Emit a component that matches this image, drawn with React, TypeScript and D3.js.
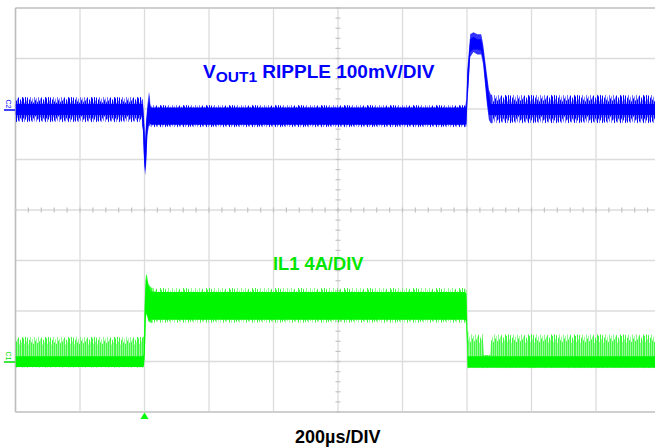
import React from "react";
import * as d3 from "d3";

// ---------- DATA ----------
// Time axis: 200 µs / division, 10 divisions
const timeTicks = [0, 200, 400, 600, 800, 1000, 1200, 1400, 1600, 1800, 2000];
const divTicks = [-4, -3, -2, -1, 0, 1, 2, 3, 4];

// VOUT1 ripple (mV, relative to channel marker), 100 mV/DIV
const blueT = [0, 390, 395, 399, 402, 405, 409, 414, 420, 1394, 1398, 1401, 1405, 1410, 1420, 1432, 1444, 1450, 1456, 1462, 1468, 1474, 1480, 2000];
const blueHi = [26, 26, 20, -20, -60, -20, 10, 36, 10, 10, 20, 80, 110, 150, 154, 150, 150, 130, 100, 70, 40, 30, 30, 30];
const blueLo = [-24, -24, -40, -110, -129, -110, -50, -30, -34, -34, -32, 10, 50, 105, 115, 110, 110, 90, 50, 10, -20, -26, -26, -26];
const blueCoreHi = [12, 12, 12, -30, -70, -30, 0, 20, 5, 5, 10, 70, 100, 140, 145, 140, 140, 120, 90, 60, 30, 12, 12, 12];
const blueCoreLo = [-10, -10, -30, -100, -120, -100, -40, -25, -29, -29, -28, 20, 60, 115, 120, 120, 118, 100, 60, 20, -10, -10, -10, -10];
// steady-state (ripple) intervals, µs
const blueSteady = [[0, 392], [418, 1395], [1478, 2000]];

// IL1 inductor current (A, relative to channel marker), 4 A/DIV
const greenT = [0, 394, 398, 401, 404, 407, 412, 420, 440, 1394, 1398, 1402, 1448, 1452, 1472, 1476, 2000];
const greenHi = [2.0, 2.0, 2.0, 5.0, 6.8, 7.0, 6.2, 5.9, 5.86, 5.86, 5.7, 2.4, 2.4, 0.55, 0.55, 2.2, 2.2];
const greenLo = [-0.45, -0.45, -0.4, 0.5, 3.5, 3.8, 3.2, 3.1, 3.1, 3.1, 3.0, -0.5, -0.5, -0.5, -0.5, -0.5, -0.5];
const greenCoreHi = [0.45, 0.45, 0.6, 4.5, 6.5, 6.6, 6.0, 5.6, 5.55, 5.55, 5.4, 0.45, 0.45, 0.45, 0.45, 0.45, 0.45];
const greenCoreLo = [-0.4, -0.4, -0.3, 0.8, 3.7, 3.9, 3.3, 3.35, 3.35, 3.35, 3.2, -0.45, -0.45, -0.45, -0.45, -0.45, -0.45];
const greenSteady = [[0, 396], [425, 1396], [1404, 2000]];

const triggerTime = 400;

// ---------- STYLE ----------
// texture of the scope's ripple columns: [up, down, opacity] (fractions of half-band)
const TEXTURE: number[][] = [
  [0.9, 0.7, 1], [0.55, 1.0, 0.55], [1.0, 0.8, 1], [0.7, 0.6, 0.6], [0.95, 1.0, 1],
  [0.5, 0.85, 0.5], [0.8, 0.95, 1], [1.0, 0.6, 0.6], [0.65, 0.9, 1], [0.85, 1.0, 0.55],
  [0.55, 0.7, 1], [1.0, 0.9, 0.6], [0.75, 0.55, 1], [0.9, 1.0, 0.5], [0.6, 0.8, 1],
  [1.0, 0.75, 0.6], [0.7, 1.0, 1], [0.85, 0.65, 0.55], [0.95, 0.9, 1], [0.5, 0.95, 0.6],
  [0.8, 0.7, 1], [0.65, 0.85, 0.5], [1.0, 1.0, 1],
];
const BLUE = "#0000ff";
const GREEN = "#00f500";

const W = 655;
const H = 447;
const x = d3.scaleLinear().domain([0, 2000]).range([15.5, 660.5]);
const yDiv = d3.scaleLinear().domain([-4, 4]).range([412, 8]);
const BLUE_OFFSET = 1.98; // divisions
const GREEN_OFFSET = -3.01; // divisions
const yBlue = (mv: number) => yDiv(BLUE_OFFSET + mv / 100);
const yGreen = (a: number) => yDiv(GREEN_OFFSET + a / 4);

type Pt = { t: number; hi: number; lo: number };
const zip = (t: number[], hi: number[], lo: number[]): Pt[] =>
  t.map((v, i) => ({ t: v, hi: hi[i], lo: lo[i] }));

const mkArea = (yf: (v: number) => number) =>
  d3
    .area<Pt>()
    .x((d) => x(d.t))
    .y0((d) => yf(d.lo))
    .y1((d) => yf(d.hi))
    .curve(d3.curveLinear);

const valueAt = (ts: number[], vs: number[], t: number) => {
  const i = Math.max(0, d3.bisectRight(ts, t) - 1);
  return vs[i];
};

const gaps = (steady: number[][]) => {
  const out: number[][] = [];
  for (let i = 0; i < steady.length - 1; i++) out.push([steady[i][1], steady[i + 1][0]]);
  return out;
};

function Trace(props: {
  id: string;
  color: string;
  light: string;
  opacityScale: number;
  ts: number[];
  hi: number[];
  lo: number[];
  coreHi: number[];
  coreLo: number[];
  steady: number[][];
  yf: (v: number) => number;
}) {
  const { id, color, light, opacityScale, ts, hi, lo, coreHi, coreLo, steady, yf } = props;
  const area = mkArea(yf);
  const outer = area(zip(ts, hi, lo)) || "";
  const core = area(zip(ts, coreHi, coreLo)) || "";
  const trans = gaps(steady);
  return (
    <g>
      <defs>
        {steady.map((s, i) => {
          const tm = (s[0] + s[1]) / 2;
          const yh = yf(valueAt(ts, hi, tm));
          const yl = yf(valueAt(ts, lo, tm));
          const c = (yh + yl) / 2;
          const half = Math.abs(yl - yh) / 2;
          return (
            <pattern
              key={i}
              id={`${id}-tex-${i}`}
              x={0}
              y={c - 3 * half}
              width={TEXTURE.length}
              height={6 * half}
              patternUnits="userSpaceOnUse"
            >
              {TEXTURE.map((tx, j) => (
                <rect
                  key={j}
                  x={j}
                  y={3 * half - tx[0] * half}
                  width={1}
                  height={(tx[0] + tx[1]) * half}
                  fill={color}
                  fillOpacity={Math.min(1, tx[2] * opacityScale)}
                />
              ))}
            </pattern>
          );
        })}
        {steady.map((s, i) => (
          <clipPath key={"c" + i} id={`${id}-clip-${i}`}>
            <rect x={x(s[0])} y={0} width={x(s[1]) - x(s[0])} height={H} />
          </clipPath>
        ))}
        {trans.map((s, i) => (
          <clipPath key={"g" + i} id={`${id}-gap-${i}`}>
            <rect x={x(s[0])} y={0} width={x(s[1]) - x(s[0])} height={H} />
          </clipPath>
        ))}
      </defs>
      {steady.map((s, i) => (
        <path key={"o" + i} d={outer} fill={`url(#${id}-tex-${i})`} clipPath={`url(#${id}-clip-${i})`} />
      ))}
      {trans.map((s, i) => (
        <path key={"t" + i} d={outer} fill={light} clipPath={`url(#${id}-gap-${i})`} />
      ))}
      <path d={core} fill={color} />
    </g>
  );
}

export default function App() {
  const cx = x(1000);
  const cy = yDiv(0);
  const hMinor = d3.range(0, 2001, 40);
  const vMinor = d3.range(-4, 4.001, 0.2);
  const font = "'Liberation Sans', Arial, Helvetica, sans-serif";
  const tx = x(triggerTime);

  return (
    <svg
      width={W}
      height={H}
      viewBox={`0 0 ${W} ${H}`}
      style={{ position: "absolute", left: 0, top: 0, background: "#fff" }}
    >
      <defs>
        <clipPath id="plotClip">
          <rect x={15.5} y={8} width={W - 15.5} height={404} />
        </clipPath>
      </defs>

      {/* grid */}
      <g>
        {timeTicks.map((t) => (
          <line key={"v" + t} x1={x(t)} x2={x(t)} y1={yDiv(4)} y2={yDiv(-4)} stroke="#dcdcdc" strokeWidth={1.3} />
        ))}
        {divTicks.map((d) => (
          <line key={"h" + d} x1={x(0)} x2={W} y1={yDiv(d)} y2={yDiv(d)} stroke="#dcdcdc" strokeWidth={1.3} />
        ))}
        <line x1={x(0)} x2={W} y1={yDiv(4)} y2={yDiv(4)} stroke="#cfcfcf" strokeWidth={2} />
        <line x1={x(0)} x2={W} y1={yDiv(-4)} y2={yDiv(-4)} stroke="#cfcfcf" strokeWidth={2} />
        <line x1={x(0)} x2={x(0)} y1={yDiv(4)} y2={yDiv(-4)} stroke="#bdbdbd" strokeWidth={1.5} />
        {hMinor.map((t) => (
          <line key={"hm" + t} x1={x(t)} x2={x(t)} y1={cy - 2.5} y2={cy + 2.5} stroke="#c4c4c4" strokeWidth={1.2} />
        ))}
        {vMinor.map((d) => (
          <line key={"vm" + d.toFixed(1)} x1={cx - 2.5} x2={cx + 2.5} y1={yDiv(d)} y2={yDiv(d)} stroke="#c4c4c4" strokeWidth={1.2} />
        ))}
      </g>

      {/* traces */}
      <g clipPath="url(#plotClip)">
        <Trace id="il1" color={GREEN} light="#33ff33" opacityScale={0.75} ts={greenT} hi={greenHi} lo={greenLo}
          coreHi={greenCoreHi} coreLo={greenCoreLo} steady={greenSteady} yf={yGreen} />
        <Trace id="vout" color={BLUE} light="#3333ff" opacityScale={1} ts={blueT} hi={blueHi} lo={blueLo}
          coreHi={blueCoreHi} coreLo={blueCoreLo} steady={blueSteady} yf={yBlue} />
      </g>

      {/* channel markers */}
      <text x={0} y={0} transform={`translate(6,${yBlue(0) - 6}) rotate(90)`} fontFamily={font} fontSize={7} fill={BLUE} textAnchor="middle">C2</text>
      <line x1={4} x2={15} y1={yBlue(0)} y2={yBlue(0)} stroke={BLUE} strokeWidth={1.5} />
      <text x={0} y={0} transform={`translate(6,${yGreen(0) - 6}) rotate(90)`} fontFamily={font} fontSize={7} fill="#00e000" textAnchor="middle">C1</text>
      <line x1={4} x2={15} y1={yGreen(0)} y2={yGreen(0)} stroke="#00e000" strokeWidth={1.5} />

      {/* trigger marker */}
      <path d={`M${tx},${yDiv(-4) + 0.5} L${tx - 4},${yDiv(-4) + 7} L${tx + 4},${yDiv(-4) + 7} Z`} fill="#00ff00" />

      {/* labels */}
      <text x={203} y={77.5} fontFamily={font} fontWeight="bold" fontSize={19} fill={BLUE}>
        V
        <tspan fontSize={15.5} dy={4.5}>OUT1</tspan>
        <tspan dy={-4.5}> RIPPLE 100mV/DIV</tspan>
      </text>
      <text x={273} y={270} fontFamily={font} fontWeight="bold" fontSize={18.3} fill="#00e600">
        IL1 4A/DIV
      </text>
      <text x={295} y={443} fontFamily={font} fontWeight="bold" fontSize={18} fill="#000">
        200µs/DIV
      </text>
    </svg>
  );
}
